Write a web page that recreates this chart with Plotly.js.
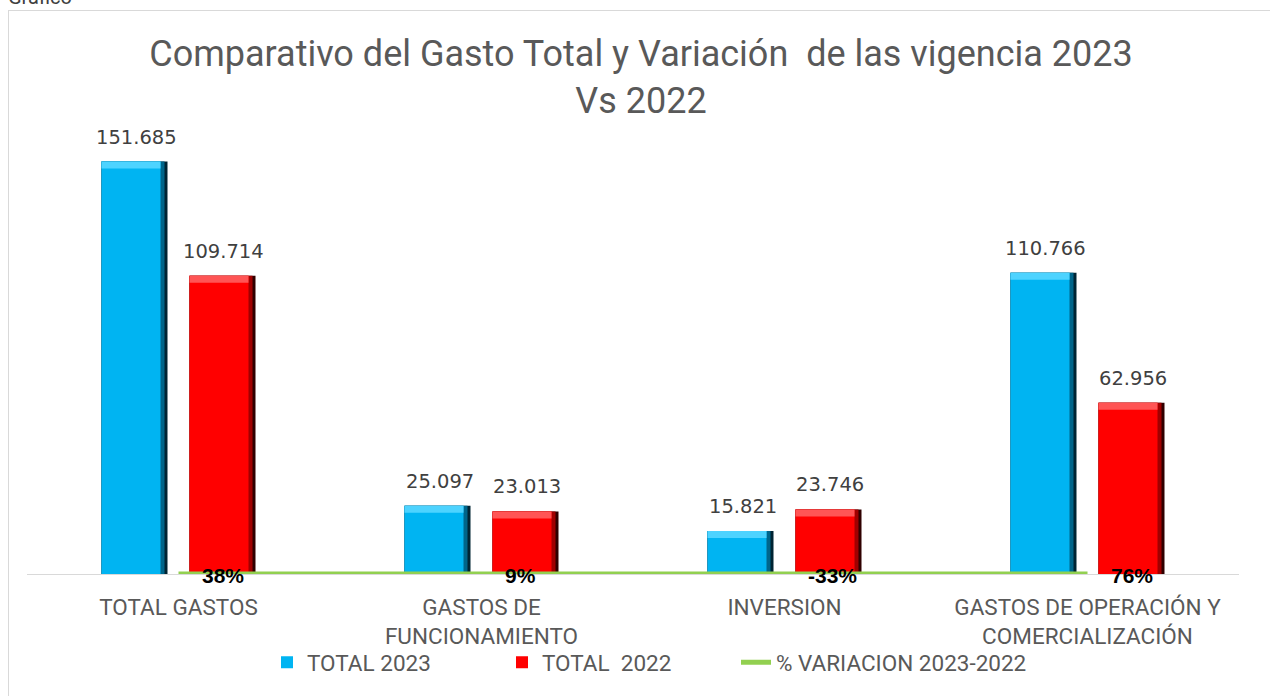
<!DOCTYPE html>
<html>
<head>
<meta charset="utf-8">
<script src="https://cdn.plot.ly/plotly-3.0.1.min.js"></script>
<style>
  html, body { margin:0; padding:0; background:#fff; overflow:hidden; width:1270px; height:696px; }
  #caption { position:absolute; left:8px; top:-13px; font:20px Roboto, sans-serif; line-height:20px; color:#404040; }
  #frame { position:absolute; left:8px; top:10px; width:1300px; height:720px; border:1px solid #d9d9d9; box-sizing:border-box; }
  #chart { position:absolute; left:0; top:0; width:1270px; height:696px; }
</style>
</head>
<body>
<div id="caption">Gráfico</div>
<div id="frame"></div>
<div id="chart"></div>
<script>
// ---- data ----
const categories = ['TOTAL GASTOS', 'GASTOS DE<br>FUNCIONAMIENTO', 'INVERSION', 'GASTOS DE OPERACIÓN Y<br>COMERCIALIZACIÓN'];
const total2023 = [151685, 25097, 15821, 110766];
const total2022 = [109714, 23013, 23746, 62956];
const variacion = [0.38, 0.09, -0.33, 0.76];
const seriesNames = ['TOTAL 2023', 'TOTAL\u00a0 2022', '% VARIACION 2023-2022'];
const titleText = 'Comparativo del Gasto Total y Variación\u00a0 de las vigencia 2023<br>Vs 2022';

// ---- styling / geometry ----
const catPx = 303;            // pixel width of one category slot
const barPx = 66;             // bar width in px
const W = barPx / catPx;
const px = p => p / catPx;
const yMax = 160000;
const plotH = 437;
const unitsPerPx = yMax / plotH;

function fmtThousands(v) { return String(v).replace(/\B(?=(\d{3})+(?!\d))/g, '.'); }
function fmtPct(v) { return Math.round(v * 100) + '%'; }

function bevelBars(vals, name, offPx, cols) {
  const off = px(offPx);
  const common = { type:'bar', x: categories, hoverinfo:'skip' };
  return [
    Object.assign({}, common, { y: vals, width: W, offset: off, marker:{ color: cols.darkest }, showlegend:false }),
    Object.assign({}, common, { y: vals, width: W - px(3), offset: off, marker:{ color: cols.dark }, showlegend:false }),
    Object.assign({}, common, { y: vals, width: W - px(7), offset: off, marker:{ color: cols.main }, name: name, showlegend:true, legend:'legend' }),
    Object.assign({}, common, { y: vals.map(() => 7 * unitsPerPx), base: vals.map(v => v - 7 * unitsPerPx),
      width: W - px(7), offset: off, marker:{ color: cols.light }, showlegend:false })
  ];
}

const blue = { main:'#00B4F2', dark:'#00658a', darkest:'#002433', light:'#4DD3FF' };
const red  = { main:'#FF0000', dark:'#A00000', darkest:'#300000', light:'#FF5555' };

const traces = [].concat(
  bevelBars(total2023, seriesNames[0], -77, blue),
  bevelBars(total2022, seriesNames[1], 11, red),
  [{ type:'scatter', mode:'lines', x: categories, y: variacion, name: seriesNames[2], legend:'legend2',
     line:{ color:'#92D050', width:5 }, hoverinfo:'skip' }]
);

const annotations = [];
categories.forEach((c, i) => {
  annotations.push({ x:c, y: total2023[i], xref:'x', yref:'y', text: fmtThousands(total2023[i]),
    showarrow:false, xanchor:'center', yanchor:'bottom', xshift:-42, yshift:11,
    font:{ family:'DejaVu Sans', size:19.5, color:'#404040' } });
  annotations.push({ x:c, y: total2022[i], xref:'x', yref:'y', text: fmtThousands(total2022[i]),
    showarrow:false, xanchor:'center', yanchor:'bottom', xshift:45, yshift:11,
    font:{ family:'DejaVu Sans', size:19.5, color:'#404040' } });
  annotations.push({ x:c, y: variacion[i], xref:'x', yref:'y', text: '<b>' + fmtPct(variacion[i]) + '</b>',
    showarrow:false, xanchor:'left', yanchor:'middle', xshift:21, yshift:-1,
    font:{ family:'Liberation Sans, Arial', size:21, color:'#000000' } });
});

const legendFont = { family:'Roboto', size:22.5, color:'#595959' };
const layout = {
  width:1270, height:696,
  paper_bgcolor:'rgba(0,0,0,0)', plot_bgcolor:'rgba(0,0,0,0)',
  margin:{ l:27, r:31, t:139, b:120 },
  barmode:'overlay',
  showlegend:true,
  title:{ text:titleText, x:641/1270, xref:'container', xanchor:'center', y:0.905, yref:'container', yanchor:'top',
    font:{ family:'Roboto', size:36, color:'#595959' } },
  xaxis:{ type:'category', showline:true, linecolor:'#d9d9d9', linewidth:1, ticks:'', showgrid:false,
    ticklabelstandoff:13,
    tickfont:{ family:'Roboto', size:22.5, color:'#595959' }, fixedrange:true },
  yaxis:{ range:[-1, yMax], visible:false, showgrid:false, zeroline:false, fixedrange:true },
  legend:{ orientation:'h', x:(267-27)/1212, xanchor:'left', y:-0.204, yanchor:'middle',
    font:legendFont, traceorder:'normal', entrywidth:190 },
  legend2:{ orientation:'h', x:(736-27)/1212, xanchor:'left', y:-0.204, yanchor:'middle',
    font:legendFont },
  annotations: annotations
};

Plotly.newPlot('chart', traces, layout, { displayModeBar:false, staticPlot:true });
</script>
</body>
</html>
